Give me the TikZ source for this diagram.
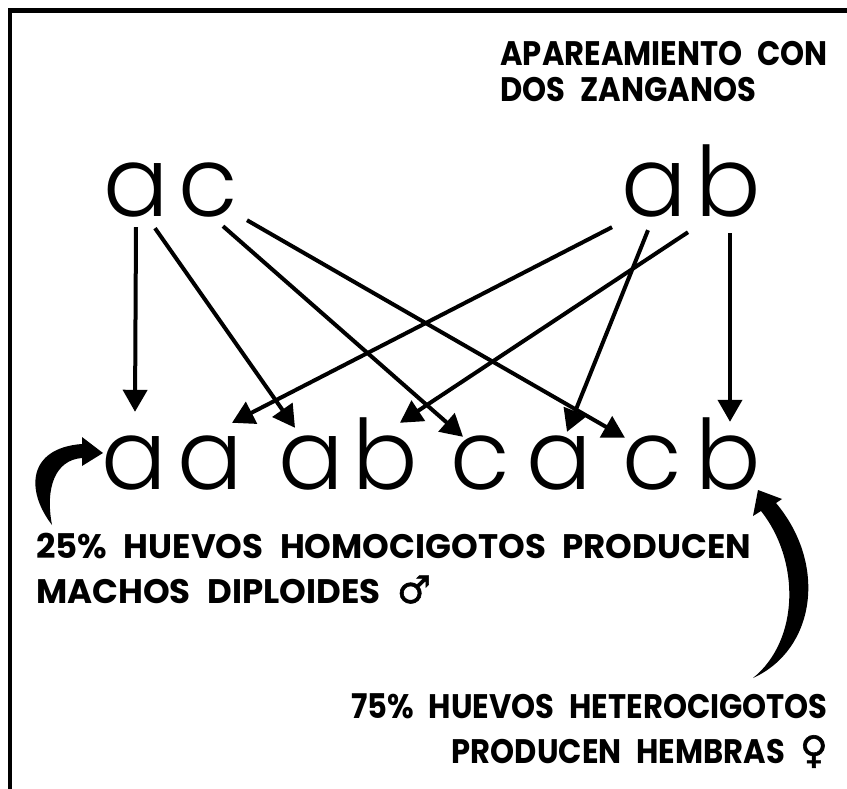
\documentclass[tikz,border=0pt]{standalone}
\usepackage{fontspec}
\usetikzlibrary{arrows.meta}
\setmainfont{Poppins}
\newfontfamily\letrafont{Poppins Light}
\newfontfamily\rotulofont{Poppins Bold}[FakeStretch=0.9,WordSpace=2.3]
\newfontfamily\leyendafont{Poppins Bold}[WordSpace=2.3]
\newfontfamily\simbolofont{DejaVu Sans Bold}[FakeBold=1.5]

\begin{document}
\begin{tikzpicture}
[x=1pt,y=-1pt,
 every node/.style={inner sep=0pt,anchor=base},
 letra/.style={font=\letrafont\fontsize{97}{97}\selectfont,text height=53pt,text depth=0pt},
 rotulo/.style={font=\rotulofont\fontsize{34}{36}\selectfont},
 leyenda/.style={font=\leyendafont\fontsize{34}{36}\selectfont},
 cruce/.style={line width=4pt,-{Triangle[length=22pt,width=24pt]}}]
  \useasboundingbox (0,0) rectangle (847,789);
  \draw[line width=4.5pt] (10,789) -- (10,10.5) -- (847,10.5);

  \node[rotulo,anchor=base east] (t1) at (828,66) {APAREAMIENTO CON};
  \node[rotulo,anchor=base west] (t2) at ([yshift=-36pt]t1.base west) {DOS ZANGANOS};

  \node[letra] (m1) at (136,217) {a};
  \node[letra] (m2) at (208,217) {c};
  \node[letra] (n1) at (654,217) {a};
  \node[letra] (n2) at (728,217) {b};

  \node[letra] (h1) at (134,489) {a};
  \node[letra] (h2) at (210,489) {a};
  \node[letra] (h3) at (311,489) {a};
  \node[letra] (h4) at (385,489) {b};
  \node[letra] (h5) at (480,489) {c};
  \node[letra] (h6) at (559,489) {a};
  \node[letra] (h7) at (652,489) {c};
  \node[letra] (h8) at (728,489) {b};

  \foreach \from/\fx/\fy/\to/\tx/\ty in {m1/0/10/h1/1/-24, m1/19/11/h3/-16/-8,
      m2/15/9/h5/-17/1, m2/39/3/h7/-27/2, n1/-42/10/h2/22/-13,
      n1/-6/13/h6/8/-4, n2/-40/15/h4/15/-13, n2/2/16/h8/2/-14}
    \draw[cruce] ([shift={(\fx,\fy)}]\from.south) -- ([shift={(\tx,\ty)}]\to.north);

  \fill (52,525) .. controls (25,490) and (28,448) .. (82,444) -- (82,437)
    -- (103,453) -- (82,466) -- (82,458) .. controls (55,460) and (45,488) .. (52,525) -- cycle;
  \fill (753,678) .. controls (815,650) and (828,565) .. (776,503) -- (782,499)
    -- (758,490) -- (753,516) -- (761,511) .. controls (800,560) and (800,640) .. (753,678) -- cycle;

  \node[leyenda,anchor=base west] (f1) at (36,558) {25\% HUEVOS HOMOCIGOTOS PRODUCEN};
  \node[leyenda,anchor=base west] (f2) at (36,603) {MACHOS DIPLOIDES {\simbolofont\fontsize{38}{38}\selectfont ♂}};
  \node[rotulo,anchor=base east] (g1) at (828,718) {75\% HUEVOS HETEROCIGOTOS};
  \node[rotulo,anchor=base east] (g2) at (828,763) {PRODUCEN HEMBRAS {\simbolofont\fontsize{38}{38}\selectfont ♀}};
\end{tikzpicture}
\end{document}
